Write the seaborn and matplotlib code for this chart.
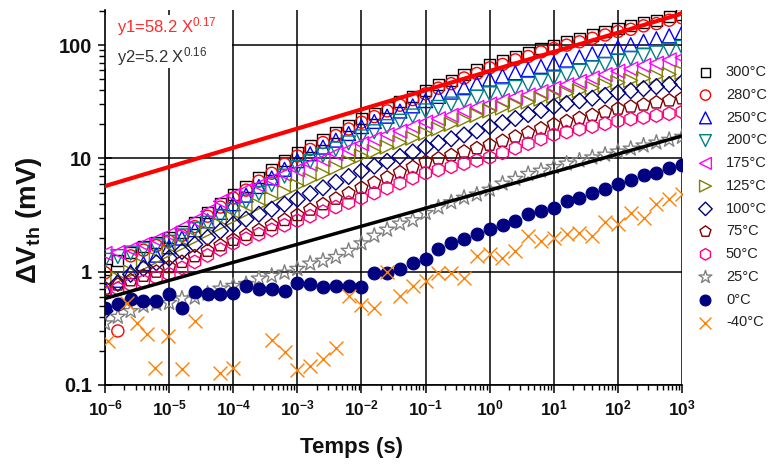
import numpy as np
import seaborn as sns
import matplotlib.pyplot as plt
from matplotlib.patches import Rectangle
from matplotlib.ticker import LogLocator, NullFormatter

# measurement instants, 5 per decade from 1e-6 s to 1e3 s
time_s = np.logspace(-6, 3, 46)

# delta Vth (mV), one value per instant
dv_300 = [1.05, 1.26, 1.48, 1.66, 1.82, 2.0, 2.24, 2.69, 3.31, 3.98, 4.79,
          5.62, 6.76, 7.94, 9.55, 11.2, 12.9, 14.8, 17.0, 19.5, 22.4,
          25.1, 28.2, 31.6, 35.5, 39.8, 44.7, 49.0, 55.0, 60.3, 67.6,
          72.4, 79.4, 85.1, 93.3, 100, 107, 115, 123, 132, 141,
          148, 158, 166, 178, 186]
dv_280 = [0.98, 0.30, 1.38, 1.55, 1.70, 1.86, 2.09, 2.5, 3.09, 3.72, 4.47,
          5.25, 6.3, 7.4, 8.9, 10.5, 12.0, 13.8, 15.9, 18.2, 20.9,
          23.4, 26.3, 29.5, 33.1, 37.2, 41.7, 45.7, 51.3, 56.2, 63.1,
          67.6, 74.1, 79.4, 87.1, 93.3, 100, 107, 115, 123, 132,
          138, 148, 155, 166, 174]
dv_250 = [0.71, 0.84, 1.0, 1.18, 1.40, 1.66, 1.98, 2.35, 2.81, 3.34, 3.98,
          4.74, 5.65, 6.73, 8.02, 9.55, 11.0, 12.6, 14.5, 16.6, 19.1,
          21.2, 23.6, 26.2, 29.1, 32.4, 35.3, 38.5, 42.1, 45.9, 50.1,
          53.5, 57.0, 60.8, 64.9, 69.2, 73.8, 78.7, 84.0, 89.5, 95.5,
          101, 108, 114, 121, 129]
dv_200 = [1.26, 1.36, 1.46, 1.57, 1.69, 1.82, 2.07, 2.36, 2.68, 3.05, 3.47,
          4.13, 4.92, 5.86, 6.98, 8.32, 9.42, 10.7, 12.1, 13.7, 15.5,
          17.2, 19.1, 21.3, 23.7, 26.3, 28.2, 30.2, 32.4, 34.7, 37.2,
          39.6, 42.3, 45.1, 48.1, 51.3, 55.0, 58.9, 63.1, 67.6, 72.4,
          76.6, 80.9, 85.5, 90.4, 95.5]
dv_175 = [1.45, 1.48, 1.58, 1.74, 1.91, 2.14, 2.45, 2.82, 3.39, 4.17, 4.68,
          5.25, 5.75, 6.46, 7.24, 7.94, 8.91, 9.77, 11.0, 12.0, 13.5,
          14.8, 16.2, 17.4, 19.1, 20.9, 22.4, 24.0, 26.3, 28.2, 30.2,
          32.4, 34.7, 36.3, 38.9, 41.7, 44.7, 47.9, 51.3, 55.0, 58.9,
          61.7, 66.1, 69.2, 74.1, 77.6]
dv_125 = [0.76, 0.87, 0.99, 1.13, 1.29, 1.48, 1.70, 1.95, 2.24, 2.57, 2.95,
          3.37, 3.85, 4.41, 5.04, 5.75, 6.49, 7.31, 8.24, 9.29, 10.5,
          11.5, 12.6, 13.8, 15.1, 16.6, 18.2, 20.0, 21.9, 24.0, 26.3,
          27.9, 29.6, 31.5, 33.4, 35.5, 37.5, 39.6, 41.9, 44.3, 46.8,
          48.8, 50.8, 53.0, 55.2, 57.5]
dv_100 = [0.45, 0.79, 0.95, 1.07, 1.20, 1.32, 1.51, 1.74, 2.0, 2.29, 2.63,
          2.91, 3.22, 3.56, 3.94, 4.37, 4.90, 5.50, 6.17, 6.92, 7.76,
          8.55, 9.42, 10.4, 11.4, 12.6, 13.7, 14.9, 16.1, 17.5, 19.1,
          20.7, 22.5, 24.4, 26.5, 28.8, 30.5, 32.2, 34.0, 36.0, 38.0,
          39.6, 41.3, 43.1, 44.9, 46.8]
dv_75 = [0.71, 0.77, 0.84, 0.92, 1.0, 1.10, 1.22, 1.37, 1.53, 1.71, 1.91,
         2.11, 2.33, 2.58, 2.86, 3.16, 3.53, 3.94, 4.41, 4.92, 5.50,
         6.11, 6.79, 7.55, 8.39, 9.33, 10.0, 10.7, 11.5, 12.3, 13.2,
         14.3, 15.6, 16.9, 18.4, 20.0, 21.3, 22.7, 24.2, 25.8, 27.5,
         28.7, 29.9, 31.2, 32.5, 33.9]
dv_50 = [0.66, 0.71, 0.77, 0.82, 0.89, 0.95, 1.08, 1.22, 1.39, 1.57, 1.78,
         1.95, 2.14, 2.34, 2.57, 2.82, 3.09, 3.39, 3.72, 4.07, 4.47,
         4.94, 5.47, 6.05, 6.70, 7.41, 7.91, 8.43, 8.99, 9.59, 10.2,
         11.2, 12.3, 13.5, 14.8, 16.2, 17.1, 18.1, 19.1, 20.2, 21.4,
         22.2, 23.0, 23.9, 24.8, 25.7]
dv_25 = [0.35, 0.40, 0.45, 0.50, 0.52, 0.53, 0.58, 0.59, 0.64, 0.71, 0.75,
         0.78, 0.87, 0.92, 0.98, 1.06, 1.18, 1.25, 1.35, 1.53, 1.78,
         2.08, 2.35, 2.66, 2.85, 3.3, 3.7, 4.1, 4.5, 4.8, 5.3,
         6.0, 6.6, 7.3, 7.8, 8.4, 9.0, 9.6, 10.2, 10.8, 11.5,
         12.2, 13.0, 13.8, 14.6, 15.5]
dv_0 = [0.48, 0.52, 0.58, 0.55, 0.55, 0.64, 0.48, 0.66, 0.64, 0.64, 0.65,
        0.75, 0.71, 0.71, 0.68, 0.80, 0.78, 0.74, 0.75, 0.75, 0.73,
        0.98, 0.98, 1.06, 1.20, 1.30, 1.58, 1.78, 1.95, 2.16, 2.40,
        2.57, 2.82, 3.24, 3.47, 3.63, 4.17, 4.47, 5.0, 5.37, 6.0,
        6.46, 7.08, 7.41, 8.3, 8.7]

# -40 °C has its own instants (points below 0.1 mV fall off the chart)
time_m40 = [1.12e-6, 2.19e-6, 3.16e-6, 4.47e-6, 6.0e-6, 9.5e-6, 1.58e-5, 2.51e-5,
            6.31e-5, 1e-4, 3.98e-4, 6.31e-4, 1e-3, 1.58e-3, 2.51e-3, 3.98e-3,
            6.31e-3, 1e-2, 1.58e-2, 2.51e-2, 3.98e-2, 6.31e-2, 0.1, 0.158, 0.251,
            0.398, 0.631, 1.0, 1.58, 2.51, 3.98, 6.31, 10, 15.8, 25.1, 39.8,
            63.1, 100, 158, 251, 398, 631, 1000]
dv_m40 = [0.245, 0.53, 0.35, 0.28, 0.14, 0.27, 0.139, 0.37, 0.128, 0.14,
          0.25, 0.196, 0.136, 0.147, 0.17, 0.21, 0.61, 0.51, 0.48, 1.0,
          0.61, 0.75, 0.83, 0.98, 0.98, 0.885, 1.39, 1.44, 1.33, 1.53,
          2.08, 1.88, 2.0, 2.17, 2.21, 2.08, 2.72, 2.66, 3.33, 3.0,
          4.0, 4.4, 4.9]

# power-law fit lines, end points
fit1_t = [1e-6, 1e3]
fit1_v = [5.7, 190]
fit2_t = [1e-6, 1e3]
fit2_v = [0.58, 15.8]
fit1_text = 'y1=58.2 X$^{0.17}$'
fit2_text = 'y2=5.2 X$^{0.16}$'

x_tick_exp = list(range(-6, 4))
y_ticks = [0.1, 1, 10, 100]
y_tick_labels = ['0.1', '1', '10', '100']

series = [  # label, times, values, marker, colour, size, filled
    ('300°C', time_s, dv_300, 's', '#000000', 65, False),
    ('280°C', time_s, dv_280, 'o', '#ff0000', 75, False),
    ('250°C', time_s, dv_250, '^', '#0000ff', 100, False),
    ('200°C', time_s, dv_200, 'v', '#008080', 100, False),
    ('175°C', time_s, dv_175, '<', '#ff00ff', 100, False),
    ('125°C', time_s, dv_125, '>', '#808000', 100, False),
    ('100°C', time_s, dv_100, 'D', '#000080', 65, False),
    ('75°C', time_s, dv_75, 'p', '#800000', 95, False),
    ('50°C', time_s, dv_50, 'h', '#ff0080', 95, False),
    ('25°C', time_s, dv_25, '*', '#808080', 130, False),
    ('0°C', time_s, dv_0, 'o', '#000080', 85, True),
    ('-40°C', time_m40, dv_m40, 'x', '#ff8000', 100, False),
]

sns.set_theme(style='ticks')
plt.rcParams['font.family'] = ['Liberation Sans', 'DejaVu Sans']
plt.rcParams['mathtext.fontset'] = 'custom'
plt.rcParams['mathtext.rm'] = 'Liberation Sans'
plt.rcParams['mathtext.bf'] = 'Liberation Sans:bold'
plt.rcParams['mathtext.it'] = 'Liberation Sans:italic'

fig = plt.figure(figsize=(7.79, 4.71), dpi=100)
ax = fig.add_axes([0.1348, 0.1826, 0.7407, 0.796])
ax.set_xscale('log')
ax.set_yscale('log')

for lab, tt, vals, mk, col, sz, filled in series:
    if mk == 'x':
        sns.scatterplot(x=tt, y=vals, marker=mk, s=sz, color=col, linewidth=1.0,
                        ax=ax, label=lab, zorder=3)
    elif filled:
        sns.scatterplot(x=tt, y=vals, marker=mk, s=sz, color=col, edgecolor=col,
                        linewidth=0.8, ax=ax, label=lab, zorder=3)
    else:
        sns.scatterplot(x=tt, y=vals, marker=mk, s=sz, color=col, facecolor='none',
                        edgecolor=col, linewidth=1.0, ax=ax, label=lab, zorder=3)

sns.lineplot(x=fit1_t, y=fit1_v, color='#ff0000', linewidth=3, ax=ax, legend=False, zorder=4)
sns.lineplot(x=fit2_t, y=fit2_v, color='#000000', linewidth=2.5, ax=ax, legend=False, zorder=4)

ax.set_xlim(1e-6, 1e3)
ax.set_ylim(0.1, 204)
ax.set_xticks([10.0 ** e for e in x_tick_exp],
              labels=[r'$\mathbf{10^{%d}}$' % e for e in x_tick_exp])
ax.set_yticks(y_ticks, labels=y_tick_labels)
ax.xaxis.set_minor_locator(LogLocator(base=10, subs=np.arange(2, 10), numticks=100))
ax.yaxis.set_minor_locator(LogLocator(base=10, subs=np.arange(2, 10), numticks=100))
ax.xaxis.set_minor_formatter(NullFormatter())
ax.yaxis.set_minor_formatter(NullFormatter())
ax.tick_params(axis='x', which='major', direction='out', length=6, width=1.1, pad=4,
               labelsize=12.5, color='black', labelcolor='#111111')
ax.tick_params(axis='x', which='minor', direction='out', length=3.5, width=1.0, color='black')
ax.tick_params(axis='y', which='major', direction='inout', length=10, width=1.1, pad=4.5,
               labelsize=14.5, color='black', labelcolor='#111111')
ax.tick_params(axis='y', which='minor', direction='out', length=4, width=1.0, color='black')
for lbl in ax.get_yticklabels():
    lbl.set_fontweight('bold')

ax.set_axisbelow(True)
ax.grid(True, which='major', color='black', linewidth=1.1)
ax.grid(False, which='minor')
ax.spines[['top', 'right']].set_visible(False)
for side in ['left', 'bottom']:
    ax.spines[side].set_color('black')
    ax.spines[side].set_linewidth(1.2)

# white box behind the fit equations
ax.add_patch(Rectangle((0, 0.845), 0.22, 0.142, transform=ax.transAxes,
                       facecolor='white', edgecolor='none', zorder=1))
ax.text(0.02, 0.955, fit1_text, transform=ax.transAxes, color='#ff2a2a',
        fontsize=12, va='center', zorder=2)
ax.text(0.02, 0.875, fit2_text, transform=ax.transAxes, color='#333333',
        fontsize=12, va='center', zorder=2)

ax.set_xlabel('Temps (s)', fontsize=16, fontweight='bold', color='#111111')
ax.xaxis.set_label_coords(0.428, -0.14)
ax.set_ylabel('ΔV$_{\\mathbf{th}}$ (mV)', fontsize=20, fontweight='bold', color='#111111')
ax.yaxis.set_label_coords(-0.105, 0.44)

ax.legend(loc='upper left', bbox_to_anchor=(1.028, 0.853), frameon=False, fontsize=10.5,
          labelspacing=0.6, handlelength=1.0, handletextpad=0.9, borderpad=0,
          borderaxespad=0, labelcolor='#222222', markerscale=0.85)

fig.savefig('out.png', dpi=100)
